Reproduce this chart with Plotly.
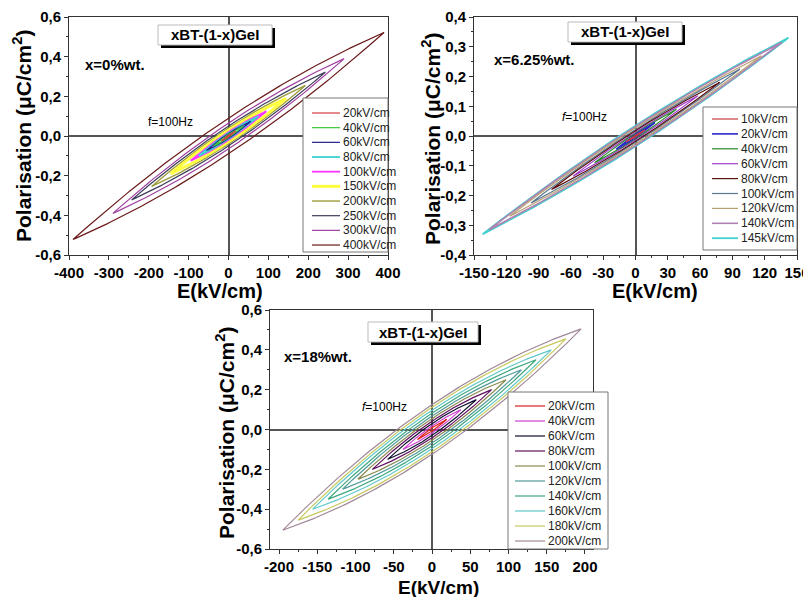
import numpy as np
import plotly.graph_objects as go

W, H = 811, 597
OFF = 8  # page body margin in the browser

# ---------------- Panel A : x = 0 %wt. ----------------
a_labels = ["20kV/cm", "40kV/cm", "60kV/cm", "80kV/cm", "100kV/cm",
            "150kV/cm", "200kV/cm", "250kV/cm", "300kV/cm", "400kV/cm"]
a_emax = [18, 37, 55, 75, 95, 145, 193, 243, 290, 390]
a_pmax = [0.025, 0.05, 0.073, 0.10, 0.125, 0.19, 0.255, 0.322, 0.39, 0.522]
a_pr = [0.004, 0.008, 0.012, 0.015, 0.02, 0.03, 0.04, 0.05, 0.065, 0.09]
a_colors = ["#d43c3c", "#3cc83c", "#1f1f8f", "#3cd2d2", "#ff33ff",
            "#ffff40", "#9c9c3c", "#3c3c5a", "#a040a0", "#6a1a1a"]
a_widths = [1.2, 1.2, 1.2, 1.8, 1.8, 3.0, 1.4, 1.2, 1.2, 1.2]
a_xticks = [-400, -300, -200, -100, 0, 100, 200, 300, 400]
a_yticks = [-0.6, -0.4, -0.2, 0.0, 0.2, 0.4, 0.6]

# ---------------- Panel B : x = 6.25 %wt. ----------------
b_labels = ["10kV/cm", "20kV/cm", "40kV/cm", "60kV/cm", "80kV/cm",
            "100kV/cm", "120kV/cm", "140kV/cm", "145kV/cm"]
b_emax = [9, 18, 38, 58, 78, 97, 117, 136, 142]
b_pmax = [0.02, 0.045, 0.09, 0.135, 0.18, 0.225, 0.27, 0.315, 0.33]
b_pr = [0.003, 0.005, 0.009, 0.013, 0.018, 0.022, 0.027, 0.032, 0.035]
b_colors = ["#c83c3c", "#2a2ac8", "#2a8a2a", "#a040c8", "#5a1010",
            "#5a7890", "#b8a070", "#b080b0", "#40d0d0"]
b_widths = [1.2, 1.6, 1.2, 1.2, 1.2, 1.2, 1.2, 1.6, 1.8]
b_xticks = [-150, -120, -90, -60, -30, 0, 30, 60, 90, 120, 150]
b_yticks = [-0.4, -0.3, -0.2, -0.1, 0.0, 0.1, 0.2, 0.3, 0.4]

# ---------------- Panel C : x = 18 %wt. ----------------
c_labels = ["20kV/cm", "40kV/cm", "60kV/cm", "80kV/cm", "100kV/cm",
            "120kV/cm", "140kV/cm", "160kV/cm", "180kV/cm", "200kV/cm"]
c_emax = [19, 38, 58, 78, 97, 117, 136, 156, 175, 195]
c_pmax = [0.05, 0.10, 0.15, 0.20, 0.25, 0.30, 0.35, 0.40, 0.455, 0.505]
c_pr = [0.008, 0.018, 0.03, 0.042, 0.055, 0.068, 0.082, 0.097, 0.112, 0.125]
c_colors = ["#e02020", "#d040d0", "#101030", "#601060", "#8a8a50",
            "#509a9a", "#40a880", "#60c8c8", "#c8c860", "#a08898"]
c_widths = [1.2] * 10
c_xticks = [-200, -150, -100, -50, 0, 50, 100, 150, 200]
c_yticks = [-0.6, -0.4, -0.2, 0.0, 0.2, 0.4, 0.6]

FONT = "Liberation Sans, Arial, sans-serif"


def fx(x):
    return (x - OFF) / W


def fy(y):
    return 1 - (y - OFF) / H


def loop(emax, pmax, pr, n=120):
    u_up = np.linspace(1, -1, n)
    u_dn = np.linspace(-1, 1, n)
    e = np.concatenate([emax * u_up, emax * u_dn])
    p = np.concatenate([pmax * u_up + pr * (1 - u_up ** 2),
                        pmax * u_dn - pr * (1 - u_dn ** 2)])
    return e, p


fig = go.Figure()

panels = [
    ("x", "y", a_labels, a_emax, a_pmax, a_pr, a_colors, a_widths),
    ("x2", "y2", b_labels, b_emax, b_pmax, b_pr, b_colors, b_widths),
    ("x3", "y3", c_labels, c_emax, c_pmax, c_pr, c_colors, c_widths),
]
for xa, ya, labels, emax, pmax, pr, cols, wids in panels:
    for i in reversed(range(len(labels))):
        e, p = loop(emax[i], pmax[i], pr[i])
        fig.add_trace(go.Scatter(x=e, y=p, mode="lines", name=labels[i],
                                 line=dict(color=cols[i], width=wids[i]),
                                 xaxis=xa, yaxis=ya, showlegend=False,
                                 hoverinfo="skip"))


def fmt_x(v):
    return str(int(v))


def fmt_y(v):
    return f"{v:.1f}".replace(".", ",")


def mids(t):
    return [(t[i] + t[i + 1]) / 2 for i in range(len(t) - 1)]


def base_axis(domain, rng, ticks, texts, anchor):
    return dict(domain=domain, range=rng, tickvals=ticks, ticktext=texts,
                anchor=anchor, automargin=False, tickangle=0,
                showline=True, mirror=True, linecolor="#333", linewidth=1,
                ticks="outside", ticklen=4, tickwidth=1, tickcolor="#333",
                minor=dict(tickvals=mids(ticks), ticklen=2, tickcolor="#333",
                           ticks="outside"),
                showgrid=False, zeroline=True, zerolinecolor="#555",
                zerolinewidth=1.5,
                tickfont=dict(family=FONT, size=15, color="black",
                              weight="bold"))


fig.update_layout(
    width=W, height=H, margin=dict(l=0, r=0, t=0, b=0, autoexpand=False),
    paper_bgcolor="white", plot_bgcolor="white", showlegend=False,
    xaxis=base_axis([fx(69), fx(388)], [-400, 400], a_xticks,
                    [fmt_x(v) for v in a_xticks], "y"),
    yaxis=base_axis([fy(255), fy(17)], [-0.6, 0.6], a_yticks,
                    [fmt_y(v) for v in a_yticks], "x"),
    xaxis2=base_axis([fx(474), fx(797)], [-150, 150], b_xticks,
                     [fmt_x(v) for v in b_xticks], "y2"),
    yaxis2=base_axis([fy(255), fy(17)], [-0.4, 0.4], b_yticks,
                     [fmt_y(v) for v in b_yticks], "x2"),
    xaxis3=base_axis([fx(270), fx(593)], [-211.8, 210.5], c_xticks,
                     [fmt_x(v) for v in c_xticks], "y3"),
    yaxis3=base_axis([fy(549), fy(310)], [-0.6, 0.6], c_yticks,
                     [fmt_y(v) for v in c_yticks], "x3"),
)

shapes = []
annotations = []

# axis titles
ytitle = "Polarisation (\u03bcC/cm<sup>2</sup>)"
for cx, cy in [(22, 136), (431, 139), (225, 433)]:
    annotations.append(dict(x=fx(cx), y=fy(cy), xref="paper", yref="paper",
                            text=ytitle, textangle=-90, showarrow=False,
                            xanchor="center", yanchor="middle",
                            font=dict(family=FONT, size=21, color="black",
                                      weight="bold")))
for cx, cy, fs in [(220, 291, 20), (655, 291, 20), (438, 587, 19)]:
    annotations.append(dict(x=fx(cx), y=fy(cy), xref="paper", yref="paper",
                            text="E(kV/cm)", showarrow=False,
                            xanchor="center", yanchor="middle",
                            font=dict(family=FONT, size=fs, color="black",
                                      weight="bold")))

# title boxes with shadow
for x0, y0, x1, y1 in [(158, 25, 272, 45), (568, 22, 682, 42), (368, 322, 478, 342)]:
    shapes.append(dict(type="rect", xref="paper", yref="paper",
                       x0=fx(x0 + 3), x1=fx(x1 + 3), y0=fy(y1 + 3), y1=fy(y0 + 3),
                       fillcolor="black", line=dict(width=0), layer="above"))
    shapes.append(dict(type="rect", xref="paper", yref="paper",
                       x0=fx(x0), x1=fx(x1), y0=fy(y1), y1=fy(y0),
                       fillcolor="white", line=dict(color="#bbbbbb", width=1),
                       layer="above"))
    annotations.append(dict(x=fx((x0 + x1) / 2), y=fy((y0 + y1) / 2),
                            xref="paper", yref="paper", text="xBT-(1-x)GeI",
                            showarrow=False, xanchor="center", yanchor="middle",
                            font=dict(family=FONT, size=15, color="black",
                                      weight="bold")))

# composition labels
for tx, x0, y0 in [("x=0%wt.", 83, 65), ("x=6.25%wt.", 492, 60), ("x=18%wt.", 282, 356)]:
    annotations.append(dict(x=fx(x0), y=fy(y0), xref="paper", yref="paper",
                            text=tx, showarrow=False, xanchor="left",
                            yanchor="middle",
                            font=dict(family=FONT, size=15, color="black",
                                      weight="bold")))

# frequency labels
for tx, x0, y0 in [("f=100Hz", 146, 122), ("<i>f</i>=100Hz", 560, 117),
                   ("<i>f</i>=100Hz", 360, 407)]:
    annotations.append(dict(x=fx(x0), y=fy(y0), xref="paper", yref="paper",
                            text=tx, showarrow=False, xanchor="left",
                            yanchor="middle",
                            font=dict(family=FONT, size=12, color="black")))

# manual legends
legends = [
    (303, 98, 388, 252, 312, 340, 113, 14.67, a_labels, a_colors, a_widths),
    (703, 107, 797, 250, 712, 738, 119, 14.9, b_labels, b_colors, b_widths),
    (508, 392, 608, 549, 515, 545, 406, 15.0, c_labels, c_colors, c_widths),
]
for bx0, by0, bx1, by1, lx0, lx1, ly0, dy, labels, cols, wids in legends:
    shapes.append(dict(type="rect", xref="paper", yref="paper",
                       x0=fx(bx0), x1=fx(bx1), y0=fy(by1), y1=fy(by0),
                       fillcolor="white", line=dict(color="#777777", width=1),
                       layer="above"))
    for i, lab in enumerate(labels):
        yy = ly0 + i * dy
        shapes.append(dict(type="line", xref="paper", yref="paper",
                           x0=fx(lx0), x1=fx(lx1), y0=fy(yy), y1=fy(yy),
                           line=dict(color=cols[i], width=max(1.2, wids[i])),
                           layer="above"))
        annotations.append(dict(x=fx(lx1 + 1), y=fy(yy), xref="paper",
                                yref="paper", text=lab, showarrow=False,
                                xanchor="left", yanchor="middle",
                                font=dict(family=FONT, size=12, color="#222")))

fig.update_layout(shapes=shapes, annotations=annotations)
fig.write_html("out.html")
